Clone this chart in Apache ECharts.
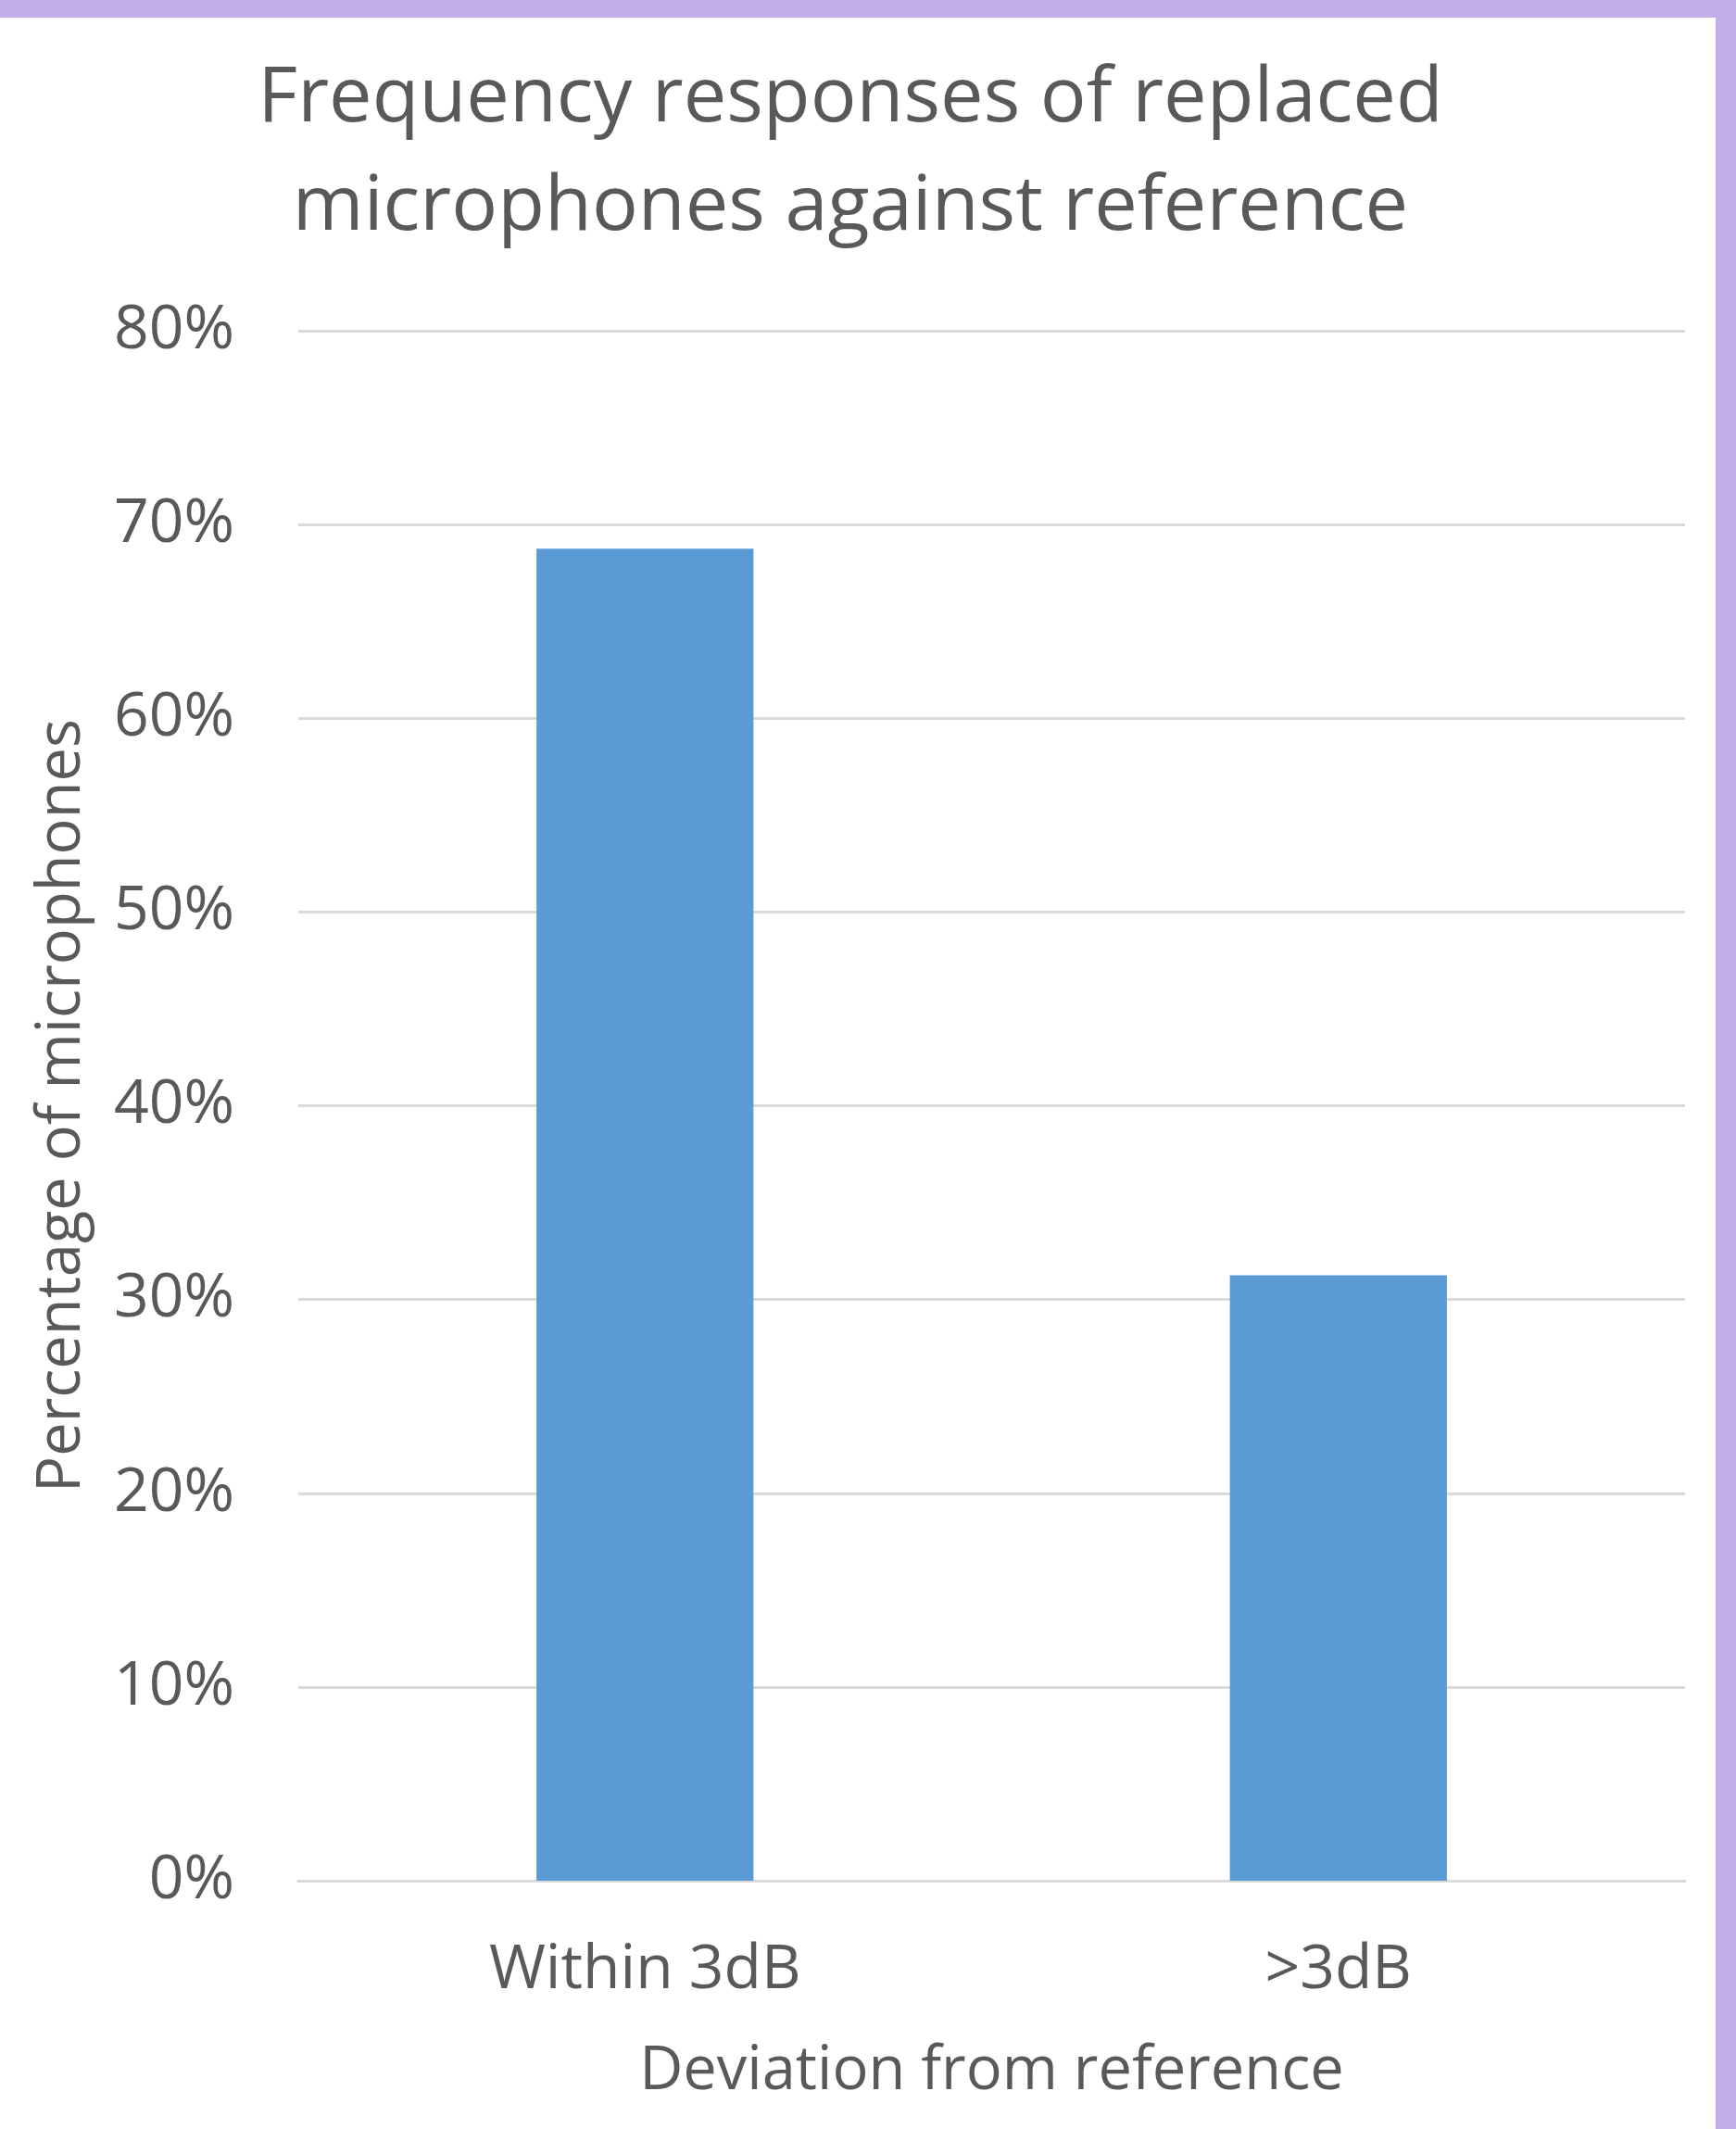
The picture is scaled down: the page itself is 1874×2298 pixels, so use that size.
<!DOCTYPE html>
<html>
<head>
<meta charset="utf-8">
<script src="https://cdn.jsdelivr.net/npm/echarts@6/dist/echarts.min.js"></script>
<style>
  html, body { margin: 0; padding: 0; background: #ffffff; }
  #chart { width: 1874px; height: 2298px; }
</style>
</head>
<body>
<div id="chart"></div>
<script>
const titleLines = ['Frequency responses of replaced', 'microphones against reference'];
const categories = ['Within 3dB', '>3dB'];
const values = [68.75, 31.25];
const yTicks = { min: 0, max: 80, interval: 10 };
const xAxisName = 'Deviation from reference';
const yAxisName = 'Percentage of microphones';

const textColor = '#595959';
const fontFamily = '"Open Sans", "Noto Sans", sans-serif';

const chart = echarts.init(document.getElementById('chart'), null, { renderer: 'canvas' });
chart.setOption({
  backgroundColor: '#ffffff',
  animation: false,
  title: {
    text: titleLines.join('\n'),
    left: 913,
    top: 44,
    textAlign: 'center',
    textStyle: {
      color: textColor,
      fontFamily: fontFamily,
      fontWeight: 'normal',
      fontSize: 83,
      lineHeight: 117
    }
  },
  graphic: [
    { type: 'rect', left: 0, top: 0, shape: { width: 1874, height: 19 }, style: { fill: '#c3aee9' }, z: 100 },
    { type: 'rect', left: 1852, top: 0, shape: { width: 22, height: 2298 }, style: { fill: '#c3aee9' }, z: 100 }
  ],
  grid: { left: 322, right: 55, top: 357, bottom: 268, containLabel: false },
  xAxis: {
    type: 'category',
    data: categories,
    axisLine: { show: true, lineStyle: { color: '#d9d9d9', width: 3 } },
    axisTick: { show: false },
    axisLabel: { color: textColor, fontFamily: fontFamily, fontSize: 66, margin: 64 },
    name: xAxisName,
    nameLocation: 'middle',
    nameGap: 174,
    nameTextStyle: { color: textColor, fontFamily: fontFamily, fontSize: 65 }
  },
  yAxis: {
    type: 'value',
    min: yTicks.min,
    max: yTicks.max,
    interval: yTicks.interval,
    axisLine: { show: false },
    axisTick: { show: false },
    splitLine: { show: true, lineStyle: { color: '#d9d9d9', width: 3 } },
    axisLabel: { color: textColor, fontFamily: fontFamily, fontSize: 66, margin: 69, formatter: '{value}%' },
    name: yAxisName,
    nameLocation: 'middle',
    nameGap: 222,
    nameTextStyle: { color: textColor, fontFamily: fontFamily, fontSize: 65 }
  },
  series: [{
    type: 'bar',
    data: values,
    barWidth: '31.3%',
    itemStyle: { color: '#5b9bd5' }
  }]
});
</script>
</body>
</html>
